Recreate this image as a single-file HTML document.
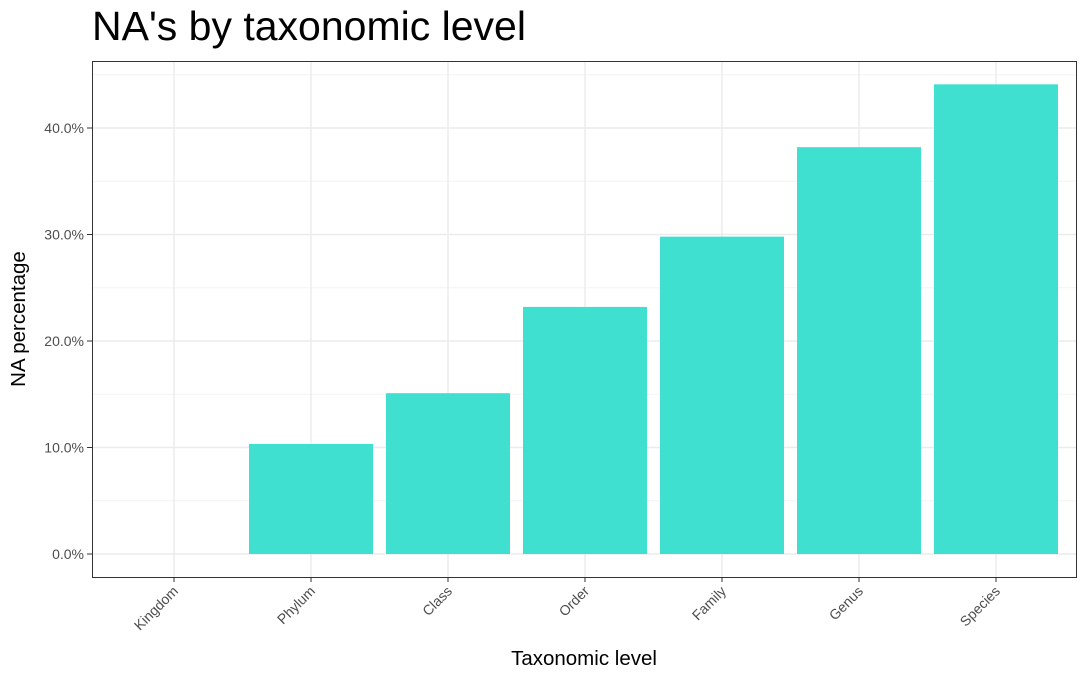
<!DOCTYPE html>
<html><head><meta charset="utf-8"><style>
body{margin:0;background:#fff;font-family:"Liberation Sans",sans-serif;}
</style></head><body>
<svg width="1088" height="680" xmlns="http://www.w3.org/2000/svg">
<text x="92" y="40" font-size="41" fill="#000">NA's by taxonomic level</text>
<g id="grid"></g>
<g id="bars"></g>
<rect x="92.5" y="61.5" width="984" height="516" fill="none" stroke="#333" stroke-width="1"/>
<g id="axes"></g>
<text x="584" y="665" font-size="20.5" text-anchor="middle">Taxonomic level</text>
<text transform="translate(25,319) rotate(-90)" font-size="20.5" text-anchor="middle">NA percentage</text>
</svg>
<script>
const categories=["Kingdom","Phylum","Class","Order","Family","Genus","Species"];
const values=[0,10.33,15.1,23.2,29.8,38.2,44.1];
const yTicks=[0,10,20,30,40];
const yTickLabels=["0.0%","10.0%","20.0%","30.0%","40.0%"];
const NS="http://www.w3.org/2000/svg";
const y=v=>554-v*10.65;
const x=i=>174+i*137;
const bw=124;
const grid=document.getElementById('grid'),bars=document.getElementById('bars'),axes=document.getElementById('axes');
function mk(tag,attrs,parent){const e=document.createElementNS(NS,tag);for(const k in attrs)e.setAttribute(k,attrs[k]);parent.appendChild(e);return e;}
for(let v=5;v<50;v+=10){const l=mk('line',{x1:92,x2:1076,y1:y(v),y2:y(v),stroke:'#f3f3f3','stroke-width':1},grid);

}
yTicks.forEach((v,i)=>{
const l=mk('line',{x1:92,x2:1076,y1:y(v),y2:y(v),stroke:'#ebebeb','stroke-width':1.4},grid);


const t=mk('line',{x1:87,x2:92,y1:y(v),y2:y(v),stroke:'#333'},axes);


const tx=mk('text',{x:84,y:y(v)+5,'font-size':14,fill:'#4d4d4d','text-anchor':'end'},axes);
tx.textContent=yTickLabels[i];


});
categories.forEach((c,i)=>{
const g=mk('line',{x1:x(i),x2:x(i),y1:61,y2:577,stroke:'#ebebeb','stroke-width':1.4},grid);


if(values[i]>0){const r=mk('rect',{x:x(i)-bw/2,y:y(values[i]),width:bw,height:y(0)-y(values[i]),fill:'#40e0d0'},bars);

}
const t=mk('line',{x1:x(i),x2:x(i),y1:577,y2:582,stroke:'#333'},axes);


const tx=mk('text',{transform:`translate(${x(i)+5},${592}) rotate(-45)`,'font-size':14,fill:'#4d4d4d','text-anchor':'end'},axes);
tx.textContent=c;


});
</script>
</body></html>
